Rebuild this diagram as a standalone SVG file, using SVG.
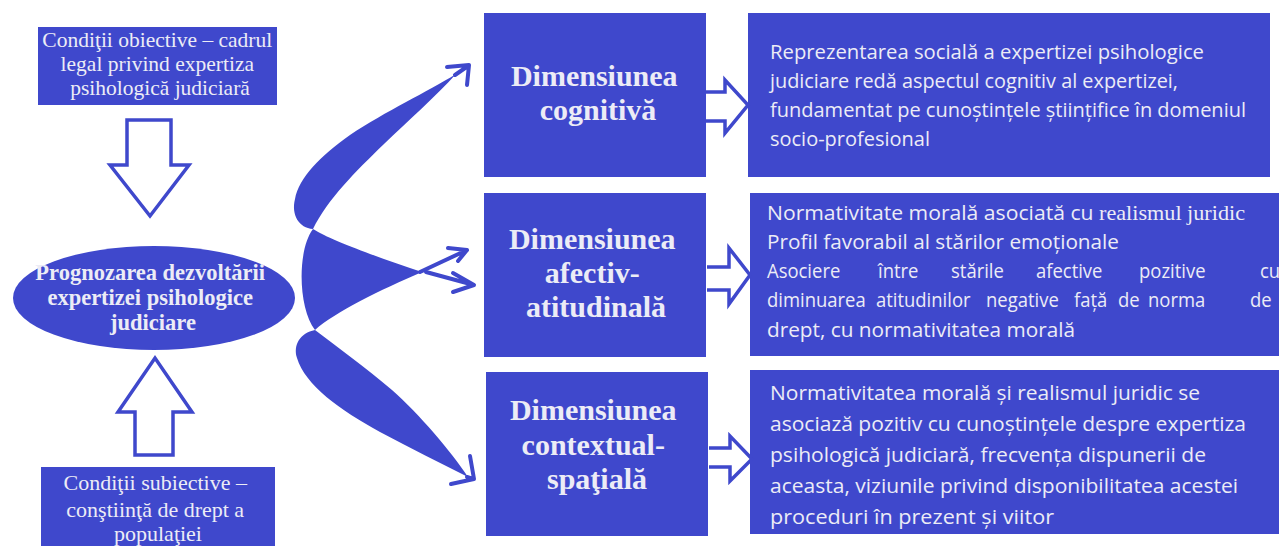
<svg xmlns="http://www.w3.org/2000/svg" width="1279" height="546" viewBox="0 0 1279 546">
<style>
.box{fill:#3F48CC;}
.ser{font-family:"Liberation Serif","Times New Roman",serif;fill:#ECECF6;}
.serb{font-family:"Liberation Serif","Times New Roman",serif;font-weight:bold;fill:#ECECF6;}
.sans{font-family:"Open Sans","Noto Sans",sans-serif;font-size:20.5px;fill:#ECECF6;}
.hollow{fill:#FFFFFF;stroke:#3F48CC;stroke-width:3.5;stroke-linejoin:miter;}
.fillb{fill:#3F48CC;}
.line{fill:none;stroke:#3F48CC;stroke-width:4;stroke-linecap:round;stroke-linejoin:round;}
</style>
<rect width="1279" height="546" fill="#FFFFFF"/>

<g id="cond-obiective">
<rect class="box" x="38" y="27" width="239" height="78"/>
<text class="ser" font-size="21.5" text-anchor="middle">
<tspan x="160" y="47">Condiţii obiective – cadrul</tspan>
<tspan x="160" y="71">legal privind expertiza</tspan>
<tspan x="160" y="95">psihologică judiciară</tspan>
</text>
</g>

<g id="prognozare">
<ellipse class="box" cx="154" cy="298" rx="141" ry="52"/>
<text class="serb" font-size="22.5" text-anchor="middle">
<tspan x="153" y="280">Prognozarea dezvoltării</tspan>
<tspan x="153" y="305">expertizei psihologice</tspan>
<tspan x="153" y="330">judiciare</tspan>
</text>
</g>

<g id="cond-subiective">
<rect class="box" x="41" y="467" width="234" height="85"/>
<text class="ser" font-size="22" text-anchor="middle">
<tspan x="158" y="490">Condiţii subiective –</tspan>
<tspan x="158" y="517">conştiinţă de drept a</tspan>
<tspan x="158" y="541">populaţiei</tspan>
</text>
</g>

<g id="dim-cognitiva">
<rect class="box" x="484" y="13" width="222" height="164"/>
<text class="serb" font-size="30" text-anchor="middle">
<tspan x="598" y="86">Dimensiunea</tspan>
<tspan x="598" y="120">cognitivă</tspan>
</text>
</g>

<g id="dim-afectiva">
<rect class="box" x="484" y="193" width="222" height="164"/>
<text class="serb" font-size="30" text-anchor="middle">
<tspan x="596" y="249">Dimensiunea</tspan>
<tspan x="596" y="283">afectiv-</tspan>
<tspan x="596" y="317">atitudinală</tspan>
</text>
</g>

<g id="dim-contextuala">
<rect class="box" x="486" y="372" width="222" height="164"/>
<text class="serb" font-size="30" text-anchor="middle">
<tspan x="597" y="420">Dimensiunea</tspan>
<tspan x="597" y="455">contextual-</tspan>
<tspan x="597" y="489">spaţială</tspan>
</text>
</g>

<g id="desc-cognitiva">
<rect class="box" x="748" y="13" width="522" height="164"/>
<text class="sans" x="770" y="59" textLength="434" lengthAdjust="spacingAndGlyphs">Reprezentarea socială a expertizei psihologice</text>
<text class="sans" x="770" y="88" textLength="408" lengthAdjust="spacingAndGlyphs">judiciare redă aspectul cognitiv al expertizei,</text>
<text class="sans" x="770" y="117" textLength="476" lengthAdjust="spacingAndGlyphs">fundamentat pe cunoștințele științifice în domeniul</text>
<text class="sans" x="770" y="146" textLength="160" lengthAdjust="spacingAndGlyphs">socio-profesional</text>
</g>

<g id="desc-afectiva">
<rect class="box" x="750" y="193" width="529" height="163"/>
<text class="sans" x="767" y="220" textLength="478" lengthAdjust="spacingAndGlyphs">Normativitate morală asociată cu <tspan font-family="Liberation Serif, Times New Roman, serif" font-size="21.5">realismul juridic</tspan></text>
<text class="sans" x="767" y="249" textLength="352" lengthAdjust="spacingAndGlyphs">Profil favorabil al stărilor emoționale</text>
<text class="sans" transform="scale(0.9,1)" y="278"><tspan x="852.2">Asociere</tspan><tspan x="975.6">între</tspan><tspan x="1056.7">stările</tspan><tspan x="1151.1">afective</tspan><tspan x="1265.6">pozitive</tspan><tspan x="1400">cu</tspan></text>
<text class="sans" transform="scale(0.9,1)" y="307"><tspan x="852.2">diminuarea</tspan><tspan x="973.3">atitudinilor</tspan><tspan x="1095.6">negative</tspan><tspan x="1193.3">față</tspan><tspan x="1242.2">de</tspan><tspan x="1275.6">norma</tspan><tspan x="1388.9">de</tspan></text>
<text class="sans" x="767" y="337" textLength="308" lengthAdjust="spacingAndGlyphs">drept, cu normativitatea morală</text>
</g>

<g id="desc-contextuala">
<rect class="box" x="750" y="370" width="529" height="164"/>
<text class="sans" x="770" y="400" textLength="430" lengthAdjust="spacingAndGlyphs">Normativitatea morală și realismul juridic se</text>
<text class="sans" x="770" y="431" textLength="476" lengthAdjust="spacingAndGlyphs">asociază pozitiv cu cunoștințele despre expertiza</text>
<text class="sans" x="770" y="462" textLength="436" lengthAdjust="spacingAndGlyphs">psihologică judiciară, frecvența dispunerii de</text>
<text class="sans" x="770" y="493" textLength="468" lengthAdjust="spacingAndGlyphs">aceasta, viziunile privind disponibilitatea acestei</text>
<text class="sans" x="770" y="524" textLength="284" lengthAdjust="spacingAndGlyphs">proceduri în prezent și viitor</text>
</g>

<g id="connectors">
<path class="hollow" d="M127,120 H171 V165 H189 L150,216 L110,165 H127 Z"/>
<path class="hollow" d="M135,455 H173 V412 H192 L155,358 L118,412 H135 Z"/>
<path class="hollow" d="M706,92 H725 V80 L748,105 L725,133 V121 H706"/>
<path class="hollow" d="M707,267 H729 V248 L750,275 L729,304 V290 H707"/>
<path class="hollow" d="M709,448 H730 V436 L752,459 L730,481 V467 H709"/>
<path class="fillb" d="M313,229 C299,228 291,215 295,199 C299,178 320,156 350,135 C386,111 427,92 456,74 C436,96 408,121 384,144 C356,171 327,200 313,229 Z"/>
<path class="fillb" d="M313,229 C330,240 380,258 422,272 C380,290 335,312 315,330 C298,308 297,250 313,229 Z"/>
<path class="fillb" d="M315,330 C300,333 293,345 297,358 C305,385 340,410 380,432 C410,448 440,463 468,477 C450,450 420,415 392,390 C366,368 336,346 315,330 Z"/>
<path class="line" d="M455,75 L468,66 M447,67 L469,65 L467,85"/>
<path class="line" d="M420,272 L467,250 M448,248 L467,250 L458,261"/>
<path class="line" d="M426,272 L474,285 M453,273 L474,285 L453,292"/>
<path class="line" d="M467,477 L473,479 M470,456 L474,479 L451,484"/>
</g>
</svg>
